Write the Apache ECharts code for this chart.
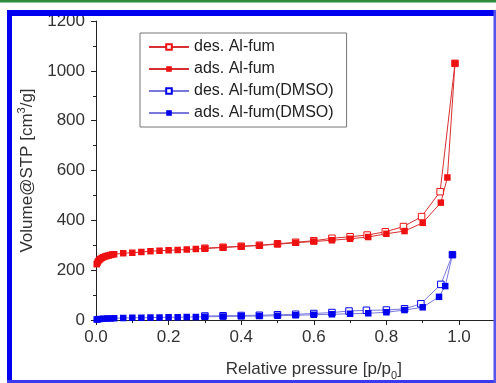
<!DOCTYPE html>
<html>
<head>
<meta charset="utf-8">
<script src="https://cdn.jsdelivr.net/npm/echarts@6/dist/echarts.min.js"></script>
<style>
html,body{margin:0;padding:0;background:#fff;}
#c{width:496px;height:383px;}
</style>
</head>
<body>
<div id="c"></div>
<script>
// ---- data ----
const seriesNames = ['des. Al-fum', 'ads. Al-fum', 'des. Al-fum(DMSO)', 'ads. Al-fum(DMSO)'];

const pRedAds = [0.002,0.004,0.006,0.009,0.012,0.016,0.02,0.025,0.03,0.035,0.04,0.045,0.05,0.075,0.1,0.125,0.15,0.175,0.2,0.225,0.25,0.275,0.3,0.35,0.4,0.45,0.5,0.55,0.6,0.65,0.7,0.75,0.8,0.85,0.9,0.95,0.968,0.989];
const vRedAds = [224,230,236,241,245,249,252,255,257,259,261,263,264,268,270,273,276,278,280,281,283,285,287,291,295,299,304,310,315,320,326,333,346,357,390,471,572,1030];

const pRedDes = [0.989,0.948,0.897,0.847,0.797,0.747,0.7,0.65,0.6,0.55,0.5,0.45,0.4,0.35,0.3];
const vRedDes = [1030,515,415,375,354,341,334,328,318,312,306,300,296,292,288];

const pBlueAds = [0.002,0.005,0.01,0.02,0.03,0.04,0.05,0.075,0.1,0.125,0.15,0.175,0.2,0.225,0.25,0.275,0.3,0.35,0.4,0.45,0.5,0.55,0.6,0.65,0.7,0.75,0.8,0.85,0.9,0.945,0.962,0.982];
const vBlueAds = [2,3,4,5,6,6,7,8,9,9,10,10,11,11,12,12,13,14,15,16,17,19,21,23,25,27,31,40,51,93,136,262];

const pBlueDes = [0.982,0.95,0.895,0.85,0.8,0.745,0.697,0.65,0.6,0.55,0.5,0.45,0.4,0.35,0.3];
const vBlueDes = [262,143,65,45,40,39,36,30,26,23,21,19,18,17,16];

const xTickLabels = ['0.0','0.2','0.4','0.6','0.8','1.0'];
const yTickLabels = ['0','200','400','600','800','1000','1200'];

// ---- chart ----
const FONT = "'Liberation Sans', Arial, sans-serif";
const RED = '#ee1111', RED_LINE = '#d83030';
const BLUE = '#0000ee', BLUE_LINE = '#7878dc';

function zip(p, v){ return p.map((x,i)=>[x, v[i]]); }

function mkSeries(name, data, color, lineColor, open){
  return {
    name, type:'line', data,
    symbol:'rect', symbolSize:6.5, showAllSymbol:true,
    lineStyle:{color:lineColor, width:1},
    itemStyle: open ? {color:'#ffffff', borderColor:color, borderWidth:1} : {color:color, borderColor:color, borderWidth:0},
    emphasis:{disabled:true},
    clip:false
  };
}

const chart = echarts.init(document.getElementById('c'), null, {renderer:'canvas'});
chart.setOption({
  animation:false,
  backgroundColor:'#ffffff',
  grid:{left:96, top:21, bottom:63, right:-35.6, containLabel:false, outerBoundsMode:'none'},
  xAxis:{
    type:'value', min:0, max:1.2, interval:0.2,
    axisLine:{show:true, lineStyle:{color:'#222', width:1}},
    axisTick:{show:true, length:5, lineStyle:{color:'#222'}},
    minorTick:{show:true, splitNumber:2, length:3, lineStyle:{color:'#222'}},
    splitLine:{show:false},
    axisLabel:{
      fontSize:17, fontFamily:FONT, color:'#333', margin:9,
      formatter:function(v){ const i = Math.round(v/0.2); return (i < xTickLabels.length) ? xTickLabels[i] : ''; }
    },
    name:'{a|Relative pressure [p/p}{s|0}{a|]}',
    nameLocation:'middle', nameGap:37,
    nameTextStyle:{
      rich:{
        a:{fontSize:17, fontFamily:FONT, color:'#333', lineHeight:24, verticalAlign:'middle'},
        s:{fontSize:11, fontFamily:FONT, color:'#333', lineHeight:24, verticalAlign:'bottom'}
      }
    }
  },
  yAxis:{
    type:'value', min:0, max:1200, interval:200,
    axisLine:{show:true, lineStyle:{color:'#222', width:1}},
    axisTick:{show:true, length:5, lineStyle:{color:'#222'}},
    minorTick:{show:true, splitNumber:2, length:3, lineStyle:{color:'#222'}},
    splitLine:{show:false},
    axisLabel:{
      fontSize:17, fontFamily:FONT, color:'#333', margin:11,
      formatter:function(v){ const i = Math.round(v/200); return yTickLabels[i] || ''; }
    },
    name:'{a|Volume@STP [cm}{s|3}{a|/g]}',
    nameLocation:'middle', nameGap:50,
    nameTextStyle:{
      rich:{
        a:{fontSize:17, fontFamily:FONT, color:'#333', lineHeight:22, verticalAlign:'middle'},
        s:{fontSize:11, fontFamily:FONT, color:'#333', lineHeight:22, verticalAlign:'top'}
      }
    }
  },
  legend:{
    show:true, orient:'vertical', left:140, top:33,
    itemWidth:40, itemHeight:7, itemGap:6,
    padding:[6,13,6,8],
    borderColor:'#777', borderWidth:1, borderRadius:0,
    backgroundColor:'#fff',
    textStyle:{fontSize:16, fontFamily:FONT, color:'#222', lineHeight:15},
    data:seriesNames
  },
  series:[
    mkSeries(seriesNames[0], zip(pRedDes, vRedDes), RED, RED_LINE, true),
    mkSeries(seriesNames[1], zip(pRedAds, vRedAds), RED, RED_LINE, false),
    mkSeries(seriesNames[2], zip(pBlueDes, vBlueDes), BLUE, BLUE_LINE, true),
    mkSeries(seriesNames[3], zip(pBlueAds, vBlueAds), BLUE, BLUE_LINE, false)
  ],
  graphic:[
    {type:'rect', shape:{x:0,y:0,width:496,height:2.5}, style:{fill:'#2e8b3c'}, z:100},
    {type:'rect', shape:{x:7,y:10,width:489,height:6}, style:{fill:'#0000f0'}, z:100},
    {type:'rect', shape:{x:7,y:10,width:5,height:373}, style:{fill:'#0000f0'}, z:100},
    {type:'rect', shape:{x:7,y:380,width:489,height:3}, style:{fill:'#3a3aee'}, z:100},
    {type:'rect', shape:{x:493.5,y:10,width:2.5,height:373}, style:{fill:'#5555ee'}, z:100}
  ]
});
</script>
</body>
</html>
